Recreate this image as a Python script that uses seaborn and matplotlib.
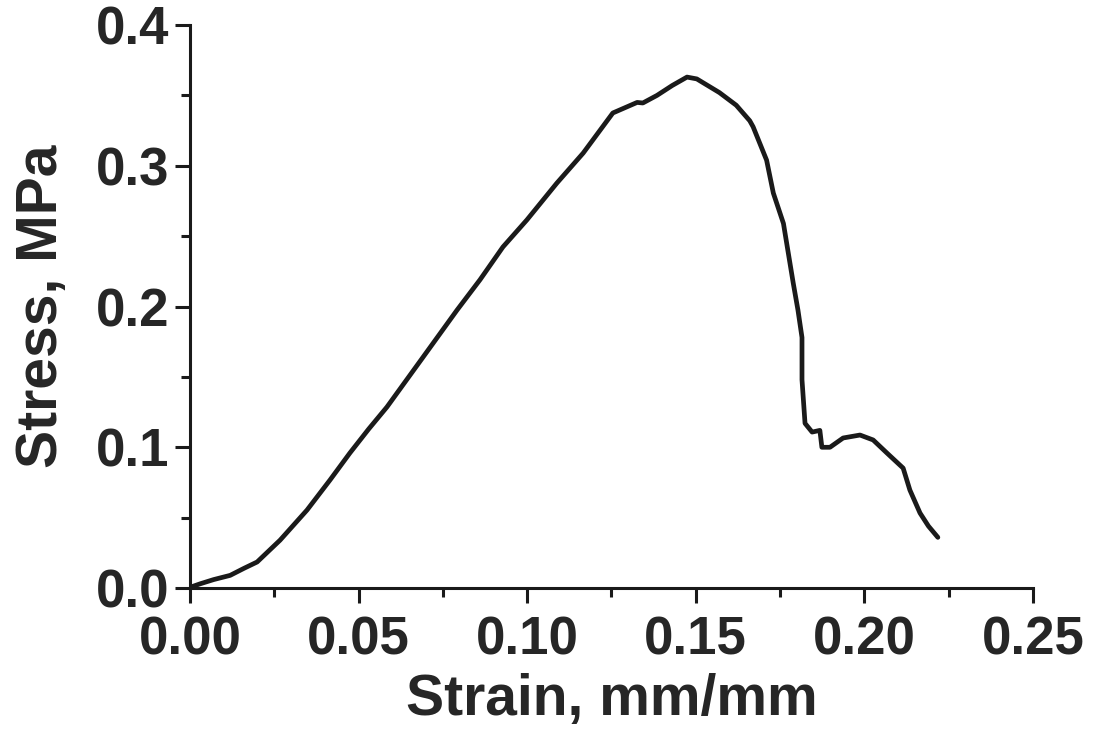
import seaborn as sns
import matplotlib.pyplot as plt
from matplotlib.ticker import MultipleLocator, FormatStrFormatter

# Stress-strain curve
strain = [0.0006, 0.0030, 0.0070, 0.0119, 0.0160, 0.0199, 0.0267, 0.0347, 0.0415,
          0.0474, 0.0530, 0.0584, 0.0691, 0.0792, 0.0860, 0.0928, 0.0999, 0.1088,
          0.1166, 0.1254, 0.1326, 0.1343, 0.1385, 0.1430, 0.1474, 0.1503, 0.1570,
          0.1620, 0.1660, 0.1670, 0.1710, 0.1730, 0.1760, 0.1773, 0.1789, 0.1803,
          0.1815, 0.1815, 0.1824, 0.1845, 0.1868, 0.1874, 0.1898, 0.1937, 0.1987,
          0.2026, 0.2067, 0.2115, 0.2135, 0.2165, 0.2190, 0.2218]
stress = [0.001, 0.003, 0.006, 0.009, 0.014, 0.0185, 0.034, 0.0554, 0.0767,
          0.0959, 0.113, 0.1286, 0.164, 0.1975, 0.219, 0.2423, 0.2615, 0.2877,
          0.309, 0.3375, 0.345, 0.3446, 0.350, 0.357, 0.363, 0.3617, 0.352,
          0.343, 0.332, 0.3277, 0.304, 0.2806, 0.259, 0.240, 0.2167, 0.1975,
          0.178, 0.148, 0.117, 0.1108, 0.112, 0.100, 0.100, 0.1066, 0.1087,
          0.1052, 0.0959, 0.0852, 0.0696, 0.0533, 0.044, 0.036]

sns.set_style("ticks")
plt.rcParams['font.family'] = ['Liberation Sans', 'DejaVu Sans']
plt.rcParams['font.weight'] = 'bold'

fig = plt.figure(figsize=(10.94, 7.42), dpi=100)
ax = fig.add_axes([0.1737, 0.2075, 0.7705, 0.7588])

sns.lineplot(x=strain, y=stress, ax=ax, sort=False, estimator=None,
             color="#1a1a1a", linewidth=3.4)

ax.set_xlim(0, 0.25)
ax.set_ylim(0, 0.4)
ax.xaxis.set_major_locator(MultipleLocator(0.05))
ax.xaxis.set_minor_locator(MultipleLocator(0.025))
ax.yaxis.set_major_locator(MultipleLocator(0.1))
ax.yaxis.set_minor_locator(MultipleLocator(0.05))
ax.xaxis.set_major_formatter(FormatStrFormatter('%.2f'))
ax.yaxis.set_major_formatter(FormatStrFormatter('%.1f'))

sns.despine(ax=ax)
for side in ['left', 'bottom']:
    ax.spines[side].set_linewidth(2.2)
    ax.spines[side].set_color('#1a1a1a')

ax.tick_params(which='major', length=11, width=2.2, color='#1a1a1a',
               labelsize=38, pad=4)
ax.tick_params(which='minor', length=6.5, width=2.2, color='#1a1a1a')
ax.tick_params(axis='x', which='major', pad=9)

for lab in ax.get_xticklabels() + ax.get_yticklabels():
    lab.set_fontweight('bold')

ax.set_xlabel("Strain, mm/mm", fontsize=41, fontweight='bold', labelpad=5)
ax.set_ylabel("Stress, MPa", fontsize=41, fontweight='bold', labelpad=19)

fig.savefig("out.png", dpi=100, facecolor='white')
